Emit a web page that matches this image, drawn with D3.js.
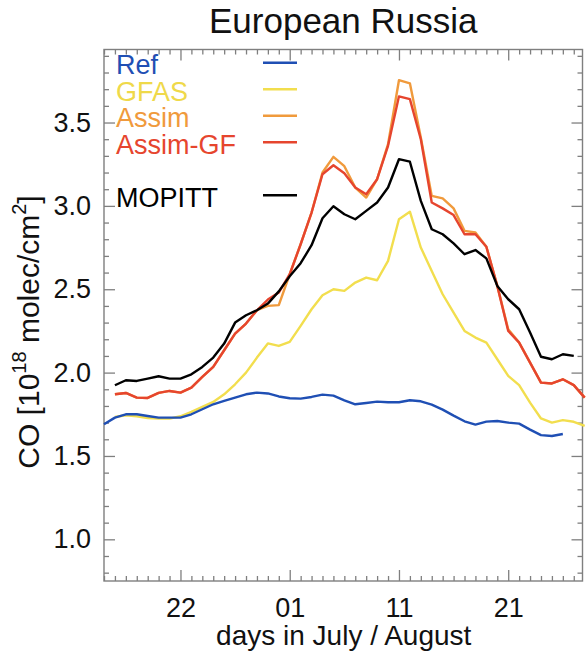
<!DOCTYPE html>
<html><head><meta charset="utf-8">
<script src="https://cdn.jsdelivr.net/npm/d3@7"></script>
<style>
html,body{margin:0;padding:0;background:#fff;}
svg{display:block;font-family:"Liberation Sans",Arial,Helvetica,sans-serif;}
</style></head>
<body><svg id="chart" width="587" height="654"></svg>
<script>
// ---- data: daily values, day 0 = 15 July (null = no data) ----
const startDate = "2010-07-15";
const refValues = [1.69,1.73,1.75,1.75,1.74,1.73,1.73,1.73,1.75,1.78,1.81,1.83,1.85,1.87,1.88,1.875,1.857,1.846,1.844,1.854,1.868,1.862,1.834,1.81,1.818,1.826,1.822,1.822,1.834,1.828,1.808,1.778,1.742,1.708,1.688,1.706,1.71,1.70,1.694,1.658,1.625,1.62,1.632,null,null];
const gfasValues = [null,1.734,1.744,1.738,1.728,1.724,1.724,1.738,1.764,1.794,1.824,1.87,1.93,2.0,2.09,2.175,2.16,2.184,2.28,2.38,2.464,2.5,2.49,2.54,2.57,2.554,2.67,2.92,2.965,2.75,2.61,2.47,2.36,2.25,2.21,2.18,2.08,1.98,1.925,1.82,1.725,1.70,1.715,1.705,1.68];
const assimValues = [null,1.87,1.878,1.85,1.848,1.878,1.89,1.88,1.91,1.974,2.034,2.134,2.234,2.294,2.374,2.40,2.405,2.59,2.77,2.96,3.20,3.294,3.238,3.11,3.05,3.16,3.37,3.754,3.735,3.41,3.06,3.045,2.985,2.85,2.84,2.755,2.52,2.26,2.18,2.06,1.94,1.935,1.96,1.925,1.85];
const assimGfValues = [null,1.87,1.878,1.85,1.848,1.878,1.89,1.88,1.91,1.974,2.034,2.134,2.234,2.294,2.374,2.438,2.48,2.59,2.77,2.96,3.19,3.244,3.196,3.11,3.07,3.16,3.36,3.657,3.64,3.40,3.02,2.985,2.945,2.83,2.83,2.755,2.52,2.25,2.18,2.06,1.94,1.935,1.96,1.925,1.85];
const mopittValues = [null,1.924,1.954,1.95,1.964,1.978,1.964,1.964,1.99,2.034,2.09,2.174,2.30,2.344,2.374,2.414,2.487,2.578,2.656,2.764,2.926,2.998,2.95,2.92,2.97,3.02,3.11,3.28,3.265,3.03,2.86,2.83,2.775,2.71,2.735,2.685,2.52,2.44,2.38,2.24,2.095,2.08,2.11,2.10,null];

const seriesNames = ["Ref","GFAS","Assim","Assim-GF","MOPITT"];
const seriesColors = ["#1f4fb4","#f2de4e","#f09a3c","#e6452e","#000000"];
const seriesData = [refValues,gfasValues,assimValues,assimGfValues,mopittValues];
const legendRows = [0,1,2,3,5];
const drawOrder = [2,3,4,1,0];

const xMajorTickDates = ["2010-07-22","2010-08-01","2010-08-11","2010-08-21"];
const xMajorTickLabels = ["22","01","11","21"];
const yMajorTicks = [1.0,1.5,2.0,2.5,3.0,3.5];
const yDomain = [0.75, 3.938];
const xDomainEnd = "2010-08-27T19:12:00Z";

const titleText = "European Russia";
const xLabel = "days in July / August";

// ---- layout ----
const svg = d3.select("#chart");
const L = 104, R = 582.5, T = 49.5, B = 581;
const parse = s => new Date(s.length > 10 ? s : s + "T00:00:00Z");
const t0 = parse(startDate);
const dayDate = i => new Date(t0.getTime() + i * 86400000);

const x = d3.scaleUtc().domain([t0, parse(xDomainEnd)]).range([L, R]);
const y = d3.scaleLinear().domain(yDomain).range([B, T]);

const axisColor = "#7f7f7f";
const dailyTicks = d3.utcDay.range(t0, parse(xDomainEnd));
const majorX = xMajorTickDates.map(parse);
const minorX = dailyTicks.filter(d => !majorX.some(m => +m === +d));
const minorY = d3.range(8, 40).map(v => v / 10).filter(v => !yMajorTicks.some(m => Math.abs(m - v) < 1e-6));

function styleAxis(g) {
  g.selectAll(".domain").remove();
  g.selectAll(".tick line").attr("stroke", axisColor).attr("stroke-width", 1.3);
  g.selectAll(".tick text").attr("fill", "#111").attr("font-size", 27);
}

// bottom
svg.append("g").attr("transform", `translate(0,${B})`)
  .call(d3.axisBottom(x).tickValues(majorX).tickSize(-11).tickSizeOuter(0).tickPadding(17)
    .tickFormat((d, i) => xMajorTickLabels[i])).call(styleAxis);
svg.append("g").attr("transform", `translate(0,${B})`)
  .call(d3.axisBottom(x).tickValues(minorX).tickSize(-5).tickSizeOuter(0).tickFormat("")).call(styleAxis);
// top
svg.append("g").attr("transform", `translate(0,${T})`)
  .call(d3.axisTop(x).tickValues(majorX).tickSize(-11).tickSizeOuter(0).tickFormat("")).call(styleAxis);
svg.append("g").attr("transform", `translate(0,${T})`)
  .call(d3.axisTop(x).tickValues(minorX).tickSize(-5).tickSizeOuter(0).tickFormat("")).call(styleAxis);
// left
svg.append("g").attr("transform", `translate(${L},0)`)
  .call(d3.axisLeft(y).tickValues(yMajorTicks).tickSize(-11).tickSizeOuter(0).tickPadding(13)
    .tickFormat(d3.format(".1f"))).call(styleAxis);
svg.append("g").attr("transform", `translate(${L},0)`)
  .call(d3.axisLeft(y).tickValues(minorY).tickSize(-5).tickSizeOuter(0).tickFormat("")).call(styleAxis);
// right
svg.append("g").attr("transform", `translate(${R},0)`)
  .call(d3.axisRight(y).tickValues(yMajorTicks).tickSize(-11).tickSizeOuter(0).tickFormat("")).call(styleAxis);
svg.append("g").attr("transform", `translate(${R},0)`)
  .call(d3.axisRight(y).tickValues(minorY).tickSize(-5).tickSizeOuter(0).tickFormat("")).call(styleAxis);

// frame
svg.append("rect").attr("x", L).attr("y", T).attr("width", R - L).attr("height", B - T)
  .attr("fill", "none").attr("stroke", axisColor).attr("stroke-width", 1.4);

// lines
const line = d3.line()
  .defined(d => d.v !== null)
  .x(d => x(d.date)).y(d => y(d.v));
const plot = svg.append("g");
drawOrder.forEach(k => {
  const pts = seriesData[k].map((v, i) => ({date: dayDate(i), v: v}));
  plot.append("path").datum(pts)
    .attr("d", line).attr("fill", "none")
    .attr("stroke", seriesColors[k]).attr("stroke-width", 2.4)
    .attr("stroke-linejoin", "round");
});

// legend
const legend = svg.append("g");
seriesNames.forEach((name, k) => {
  const by = 74.3 + legendRows[k] * 26.5;
  legend.append("text").attr("x", 116).attr("y", by)
    .attr("font-size", 27).attr("fill", seriesColors[k] === "#f2de4e" ? "#efd94a" : seriesColors[k]).text(name);
  legend.append("line").attr("x1", 263).attr("x2", 297).attr("y1", by - 11.5).attr("y2", by - 11.5)
    .attr("stroke", seriesColors[k]).attr("stroke-width", 2.4);
});

// title
svg.append("text").attr("x", (L + R) / 2).attr("y", 33.3).attr("text-anchor", "middle")
  .attr("font-size", 35).attr("fill", "#111").text(titleText);

// x label
svg.append("text").attr("x", (L + R) / 2 + 0.5).attr("y", 645).attr("text-anchor", "middle")
  .attr("font-size", 28).attr("fill", "#111").text(xLabel);

// y label
const yl = svg.append("text").attr("transform", "translate(39,332) rotate(-90)")
  .attr("text-anchor", "middle").attr("font-size", 30).attr("fill", "#111");
yl.append("tspan").text("CO [10");
yl.append("tspan").attr("font-size", 20).attr("dy", -13).text("18");
yl.append("tspan").attr("dy", 13).text(" molec/cm");
yl.append("tspan").attr("font-size", 20).attr("dy", -13).text("2");
yl.append("tspan").attr("dy", 13).text("]");
</script></body></html>
